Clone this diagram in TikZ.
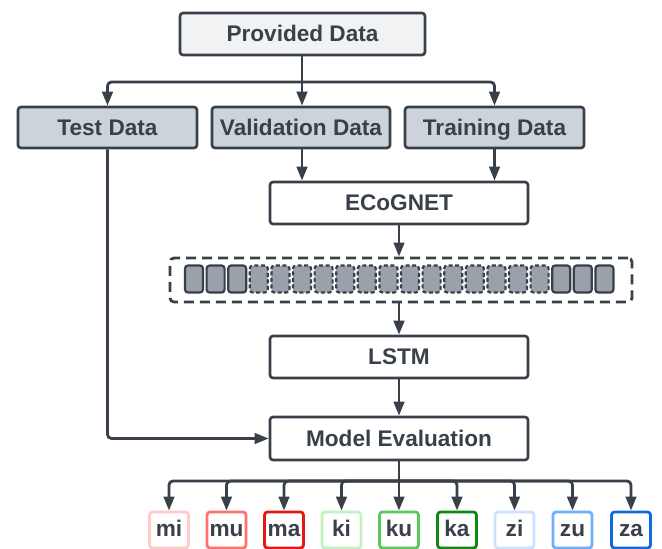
\documentclass[tikz,border=0pt]{standalone}
\usepackage{fontspec}
\setmainfont{Liberation Sans}
\usetikzlibrary{arrows.meta}
\definecolor{ink}{HTML}{3A4049}
\definecolor{topfill}{HTML}{F1F2F4}
\definecolor{splitfill}{HTML}{CDD3DB}
\definecolor{cellfill}{HTML}{9BA1AA}
\definecolor{cmi}{HTML}{FFCCCC}
\definecolor{cmu}{HTML}{FF7070}
\definecolor{cma}{HTML}{E41616}
\definecolor{cki}{HTML}{C2F2C2}
\definecolor{cku}{HTML}{5AC85A}
\definecolor{cka}{HTML}{0E8A0E}
\definecolor{czi}{HTML}{CCE2FF}
\definecolor{czu}{HTML}{6EB0FF}
\definecolor{cza}{HTML}{1268E0}
\tikzset{
  box/.style={draw=ink, line width=2.6pt, rounded corners=3pt, inner sep=0pt,
    text=ink, font=\bfseries\fontsize{22.6}{26}\selectfont,
    text height=15.5pt, text depth=0pt},
  cell/.style={draw=ink, line width=2.2pt, rounded corners=3pt, fill=cellfill,
    minimum width=18pt, minimum height=27pt, inner sep=0pt},
  label/.style={draw=#1, fill=white, line width=2.8pt, rounded corners=3pt, inner sep=0pt,
    minimum width=39pt, minimum height=36pt, text=ink,
    font=\bfseries\fontsize{22.6}{26}\selectfont,
    text height=12pt, text depth=0pt},
  arr/.style={draw=ink, line width=2.8pt, rounded corners=4pt,
    -{Triangle[length=14pt,width=10.5pt]}},
  link/.style={draw=ink, line width=2.8pt, rounded corners=4pt}
}
\begin{document}
\begin{tikzpicture}[x=1pt,y=-1pt]
\useasboundingbox (0,0) rectangle (662,549);

% data sources
\node[box, fill=topfill, minimum width=245pt, minimum height=42pt] (pd) at (302.5,34) {Provided Data};
\node[box, fill=splitfill, minimum width=179pt, minimum height=41pt] (test) at (107.5,127.5) {Test Data};
\node[box, fill=splitfill, minimum width=178pt, minimum height=41pt] (val) at (301,127.5) {Validation Data};
\node[box, fill=splitfill, minimum width=179pt, minimum height=41pt] (train) at (494.5,127.5) {Training Data};

% model stages
\node[box, fill=white, minimum width=258pt, minimum height=42pt] (ecog) at (399,203) {ECoGNET};
\node[draw=ink, line width=2.8pt, dash pattern=on 10pt off 6pt, rounded corners=4pt,
      minimum width=462pt, minimum height=44pt, inner sep=0pt] (seq) at (401,280) {};
\node[box, fill=white, minimum width=258pt, minimum height=42pt] (lstm) at (399,357) {LSTM};
\node[box, fill=white, minimum width=258pt, minimum height=43pt] (eval) at (399,438.5) {Model Evaluation};

% feature sequence cells
\foreach \i in {1,...,20}{
  \pgfmathsetmacro{\cx}{185+9+(\i-1)*21.6}
  \ifnum\i<4
    \node[cell] (c\i) at (\cx,279) {};
  \else\ifnum\i>17
    \node[cell] (c\i) at (\cx,279) {};
  \else
    \node[cell, dash pattern=on 4pt off 2.5pt] (c\i) at (\cx,279) {};
  \fi\fi
}

% class labels
\foreach \n/\t/\x in {mi/mi/169, mu/mu/226.5, ma/ma/284, ki/ki/341.5, ku/ku/399,
                      ka/ka/457, zi/zi/514.5, zu/zu/572.5, za/za/631}{
  \node[label=c\n] (\n) at (\x,530) {\t};
}

% split of the provided data
\coordinate (s1) at (302,82);
\draw[link] (pd.south -| s1) -- (s1);
\draw[arr] (s1) -- (val.north -| s1);
\draw[arr] (s1) -| (test.north);
\draw[arr] (s1) -| (train.north);

% training path
\draw[arr] (val.south -| s1) -- (ecog.north -| s1);
\draw[arr] (train.south) -- (train.south |- ecog.north);
\draw[arr] (ecog.south) -- (ecog.south |- seq.north);
\draw[arr] (lstm.north |- seq.south) -- (lstm.north);
\draw[arr] (lstm.south) -- (eval.north);

% test path
\draw[arr] (test.south) |- (eval.west);

% evaluation outputs
\coordinate (s2) at (399,481);
\draw[link] (eval.south) -- (s2);
\foreach \n in {mi,mu,ma,ki,ku,ka,zi,zu,za}{
  \draw[arr] (s2) -| (\n.north);
}
\end{tikzpicture}
\end{document}
